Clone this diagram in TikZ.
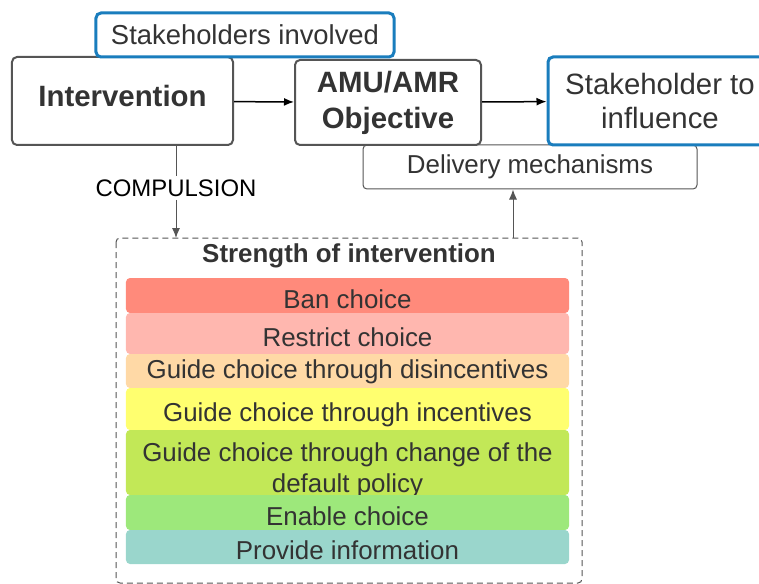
\documentclass[tikz,border=0pt]{standalone}
\usepackage{fontspec}
\setmainfont{Liberation Sans}
\usetikzlibrary{arrows.meta}
\definecolor{txt}{HTML}{333333}
\definecolor{frame}{HTML}{555555}
\definecolor{sky}{HTML}{1A7DBD}
\definecolor{ban}{HTML}{FF8A7B}
\definecolor{restrict}{HTML}{FFB7AF}
\definecolor{disinc}{HTML}{FFD9A6}
\definecolor{inc}{HTML}{FFFF6F}
\definecolor{default}{HTML}{C2E857}
\definecolor{enable}{HTML}{9DE87B}
\definecolor{inform}{HTML}{9AD6CC}

\begin{document}
\begin{tikzpicture}[x=1bp, y=-1bp, >={Latex[length=10bp,width=8bp]},
  box/.style={draw=frame, fill=white, line width=2bp, rounded corners=5bp, text=txt, align=center, inner sep=0pt},
  bluebox/.style={box, draw=sky, line width=3bp},
  bar/.style={rounded corners=4bp, text=txt, inner sep=0pt, minimum width=443bp, align=center, text height=25bp, text depth=0bp, font=\fontsize{26}{31}\selectfont}]
\useasboundingbox (0,0) rectangle (759,584);
\clip (0,0) rectangle (759,584);
\node[box, line width=1bp, rounded corners=4bp, minimum width=334bp, minimum height=44bp, font=\fontsize{26}{30}\selectfont] (delivery) at (530,167) {Delivery mechanisms};
\node[box, minimum width=221bp, minimum height=88bp, text height=21bp, text depth=10bp, font=\bfseries\fontsize{29.5}{36}\selectfont] (interv) at (122.5,101) {Intervention};
\node[box, minimum width=186bp, minimum height=85bp, font=\bfseries\fontsize{29.5}{36}\selectfont] (objective) at (388,102.5) {AMU/AMR\\Objective};
\node[bluebox, minimum width=224bp, minimum height=88bp, font=\fontsize{29.5}{34}\selectfont] (influence) at (660,101) {Stakeholder to\\influence};
\node[bluebox, minimum width=298bp, minimum height=44bp, font=\fontsize{27.5}{32}\selectfont] (involved) at (245,35) {Stakeholders involved};
\draw[frame, line width=1bp, dash pattern=on 6bp off 4bp, rounded corners=4bp] (116,238) rectangle (582,583);
\node[text=txt, font=\bfseries\fontsize{26}{30}\selectfont] (strength) at (349,256) {Strength of intervention};
\node[bar, fill=ban, minimum height=35bp] (b1) at (347.5,295.5) {Ban choice};
\node[bar, fill=restrict, minimum height=41bp] (b2) at (347.5,333.5) {Restrict choice};
\node[bar, fill=disinc, minimum height=34bp, text height=15bp] (b3) at (347.5,371) {Guide choice through disincentives};
\node[bar, fill=inc, minimum height=42bp] (b4) at (347.5,409) {Guide choice through incentives};
\node[bar, fill=default, minimum height=65bp, text height=60bp] (b5) at (347.5,462.5) {Guide choice through change of the\\default policy};
\node[bar, fill=enable, minimum height=35bp] (b6) at (347.5,512.5) {Enable choice};
\node[bar, fill=inform, minimum height=34bp] (b7) at (347.5,547) {Provide information};
\node[text=black, font=\fontsize{24}{28}\selectfont] (comp) at (176,188) {COMPULSION};
\coordinate (top) at (176,238);
\coordinate (tap) at (513,238);
\draw[black, line width=1.5bp, ->] (interv) -- (objective);
\draw[black, line width=1.5bp, ->] (objective) -- (influence);
\draw[frame, line width=1bp] (comp |- interv.south) -- (comp.north);
\draw[frame, line width=1bp, ->] (comp.south) -- (top);
\draw[frame, line width=1bp, ->] (tap) -- (tap |- delivery.south);
\end{tikzpicture}
\end{document}
